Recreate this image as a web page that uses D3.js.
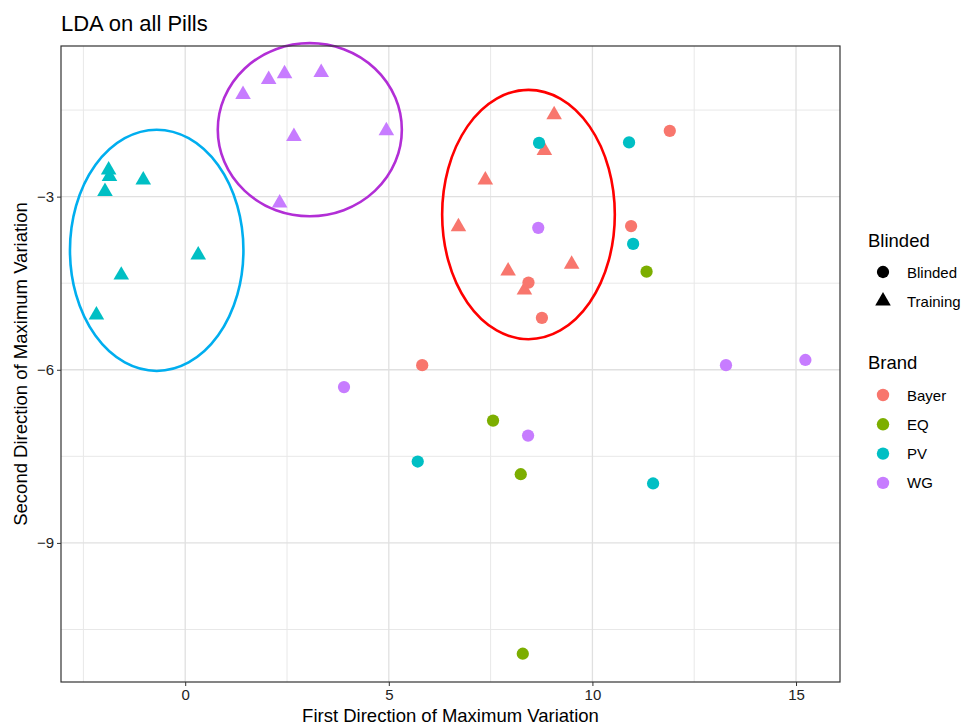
<!DOCTYPE html>
<html>
<head>
<meta charset="utf-8">
<script src="https://cdn.jsdelivr.net/npm/d3@7"></script>
<style>
  body { margin: 0; background: #fff; }
  text { font-family: "Liberation Sans", Arial, sans-serif; }
</style>
</head>
<body>
<div id="chart"></div>
<script>
const width = 962;
const height = 725;

// point data
const brands = ["Bayer", "EQ", "PV", "WG"];
const brandColors = ["#F8766D", "#7CAE00", "#00BFC4", "#C77CFF"];
const blindedLevels = ["Blinded", "Training"];

const ptBrand = [
  "PV","PV","PV","PV","PV","PV","PV",
  "WG","WG","WG","WG","WG","WG","WG",
  "Bayer","Bayer","Bayer","Bayer","Bayer","Bayer","Bayer",
  "Bayer","Bayer","Bayer","Bayer","Bayer",
  "PV","PV","PV","PV","PV",
  "EQ","EQ","EQ","EQ",
  "WG","WG","WG","WG","WG"
];
const ptType = [
  "Training","Training","Training","Training","Training","Training","Training",
  "Training","Training","Training","Training","Training","Training","Training",
  "Training","Training","Training","Training","Training","Training","Training",
  "Blinded","Blinded","Blinded","Blinded","Blinded",
  "Blinded","Blinded","Blinded","Blinded","Blinded",
  "Blinded","Blinded","Blinded","Blinded",
  "Blinded","Blinded","Blinded","Blinded","Blinded"
];
const ptX = [
  -1.88, -1.86, -1.97, -1.03, -1.57, 0.32, -2.18,
  1.42, 2.05, 2.44, 3.34, 2.67, 4.94, 2.32,
  9.06, 8.82, 7.37, 6.71, 7.93, 9.49, 8.33,
  11.9, 10.95, 8.43, 8.76, 5.82,
  8.69, 10.90, 11.0, 5.71, 11.49,
  11.33, 7.56, 8.24, 8.29,
  8.67, 3.90, 13.28, 15.23, 8.42
];
const ptY = [
  -2.54, -2.65, -2.91, -2.71, -4.36, -4.01, -5.05,
  -1.23, -0.97, -0.87, -0.85, -1.96, -1.86, -3.11,
  -1.58, -2.20, -2.71, -3.52, -4.29, -4.17, -4.62,
  -1.86, -3.51, -4.49, -5.10, -5.92,
  -2.07, -2.06, -3.82, -7.59, -7.97,
  -4.30, -6.88, -7.81, -10.92,
  -3.54, -6.30, -5.92, -5.83, -7.14
];

// annotation ellipses (data units)
const ellCx = [-0.70, 3.06, 8.43];
const ellCy = [-3.93, -1.84, -3.31];
const ellRx = [2.13, 2.26, 2.12];
const ellRy = [2.09, 1.50, 2.16];
const ellColors = ["#00AEEF", "#B22ED6", "#FF0000"];

const xTicks = [0, 5, 10, 15];
const yTicks = [-3, -6, -9];
const xMinor = [-2.5, 2.5, 7.5, 12.5];
const yMinor = [-1.5, -4.5, -7.5, -10.5];

const pLeft = 61, pRight = 840, pTop = 46, pBottom = 682;

const svg = d3.select("#chart").append("svg")
  .attr("width", width).attr("height", height);

const x = d3.scaleLinear().domain([-3.05, 16.08]).range([pLeft, pRight]);
const y = d3.scaleLinear().domain([-11.41, -0.39]).range([pBottom, pTop]);
const color = d3.scaleOrdinal().domain(brands).range(brandColors);
const shape = d3.scaleOrdinal().domain(blindedLevels).range([d3.symbolCircle, d3.symbolTriangle]);

// grid
svg.append("g").selectAll("line").data(xMinor).join("line")
  .attr("x1", d => x(d)).attr("x2", d => x(d)).attr("y1", pTop).attr("y2", pBottom)
  .attr("stroke", "#E8E8E8").attr("stroke-width", 1);
svg.append("g").selectAll("line").data(yMinor).join("line")
  .attr("y1", d => y(d)).attr("y2", d => y(d)).attr("x1", pLeft).attr("x2", pRight)
  .attr("stroke", "#E8E8E8").attr("stroke-width", 1);
svg.append("g").selectAll("line").data(xTicks).join("line")
  .attr("x1", d => x(d)).attr("x2", d => x(d)).attr("y1", pTop).attr("y2", pBottom)
  .attr("stroke", "#E0E0E0").attr("stroke-width", 1.3);
svg.append("g").selectAll("line").data(yTicks).join("line")
  .attr("y1", d => y(d)).attr("y2", d => y(d)).attr("x1", pLeft).attr("x2", pRight)
  .attr("stroke", "#E0E0E0").attr("stroke-width", 1.3);

// axes
const xAxis = svg.append("g").attr("transform", `translate(0,${pBottom})`)
  .call(d3.axisBottom(x).tickValues(xTicks).tickSize(4).tickPadding(3).tickFormat(d3.format("d")));
const yAxis = svg.append("g").attr("transform", `translate(${pLeft},0)`)
  .call(d3.axisLeft(y).tickValues(yTicks).tickSize(4).tickPadding(3).tickFormat(d => "\u2212" + Math.abs(d)));
[xAxis, yAxis].forEach(a => {
  a.select(".domain").remove();
  a.attr("font-size", null).attr("font-family", null);
  a.selectAll(".tick line").attr("stroke", "#333");
  a.selectAll(".tick text").attr("fill", "#222").style("font-size", "15px");
});

// points
svg.append("g").selectAll("path").data(ptX).join("path")
  .attr("transform", (d, i) => `translate(${x(d)},${y(ptY[i])})`)
  .attr("d", (d, i) => d3.symbol().type(shape(ptType[i])).size(ptType[i] === "Training" ? 105 : 118)())
  .attr("fill", (d, i) => color(ptBrand[i]));

// ellipses
svg.append("g").selectAll("ellipse").data(ellCx).join("ellipse")
  .attr("cx", d => x(d))
  .attr("cy", (d, i) => y(ellCy[i]))
  .attr("rx", (d, i) => x(d + ellRx[i]) - x(d))
  .attr("ry", (d, i) => y(ellCy[i] - ellRy[i]) - y(ellCy[i]))
  .attr("fill", "none")
  .attr("stroke", (d, i) => ellColors[i])
  .attr("stroke-width", 2.6);

// panel border
svg.append("rect").attr("x", pLeft).attr("y", pTop)
  .attr("width", pRight - pLeft).attr("height", pBottom - pTop)
  .attr("fill", "none").attr("stroke", "#333").attr("stroke-width", 1.2);

// titles
svg.append("text").attr("x", pLeft).attr("y", 31).text("LDA on all Pills")
  .style("font-size", "22px").attr("fill", "#000");
svg.append("text").attr("x", (pLeft + pRight) / 2).attr("y", 722).attr("text-anchor", "middle")
  .text("First Direction of Maximum Variation").style("font-size", "18.5px");
svg.append("text").attr("transform", `translate(27,${(pTop + pBottom) / 2}) rotate(-90)`)
  .attr("text-anchor", "middle")
  .text("Second Direction of Maximum Variation").style("font-size", "18.5px");

// legends
const legend = svg.append("g").attr("id", "legend");
legend.append("text").attr("x", 868).attr("y", 247).text("Blinded").style("font-size", "18.5px");
legend.selectAll("path.shape").data(blindedLevels).join("path")
  .attr("class", "shape")
  .attr("transform", (d, i) => `translate(883,${272 + i * 29})`)
  .attr("d", d => d3.symbol().type(shape(d)).size(d === "Training" ? 105 : 118)())
  .attr("fill", "#000");
legend.selectAll("text.shape").data(blindedLevels).join("text")
  .attr("class", "shape")
  .attr("x", 907).attr("y", (d, i) => 277.5 + i * 29)
  .text(d => d).style("font-size", "15px");

legend.append("text").attr("x", 868).attr("y", 369).text("Brand").style("font-size", "18.5px");
legend.selectAll("circle").data(brands).join("circle")
  .attr("cx", 883).attr("cy", (d, i) => 395 + i * 29.3).attr("r", 6.2)
  .attr("fill", d => color(d));
legend.selectAll("text.brand").data(brands).join("text")
  .attr("class", "brand")
  .attr("x", 907).attr("y", (d, i) => 400.5 + i * 29.3)
  .text(d => d).style("font-size", "15px");
</script>
</body>
</html>
